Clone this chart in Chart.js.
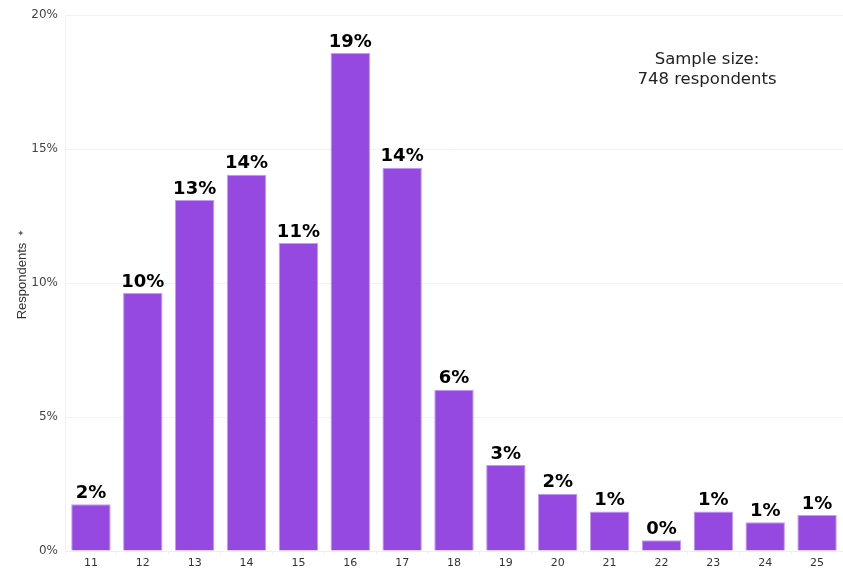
<!DOCTYPE html>
<html lang="en">
<head>
    <meta charset="UTF-8">
    <title>Respondents by Age</title>
    <script src="https://cdn.jsdelivr.net/npm/chart.js"></script>
    <style>
        body {
            margin: 0;
            background: #ffffff;
        }
        #wrap {
            width: 843px;
            height: 574px;
        }
    </style>
</head>
<body>
    <div id="wrap">
        <canvas id="ageChart" width="843" height="574"></canvas>
    </div>

    <script>
        // share of respondents per age, in percent
        const ages = ['11', '12', '13', '14', '15', '16', '17', '18', '19', '20', '21', '22', '23', '24', '25'];
        const shares = [1.74, 9.63, 13.1, 14.04, 11.49, 18.58, 14.3, 6.02, 3.21, 2.14, 1.47, 0.4, 1.47, 1.07, 1.34];
        const yTicks = [0, 5, 10, 15, 20];
        const sampleNote = ['Sample size:', '748 respondents'];

        const barColor = '#9549e1';

        // percentage labels above each bar
        const valueLabels = {
            id: 'valueLabels',
            afterDatasetsDraw(chart) {
                const ctx = chart.ctx;
                const meta = chart.getDatasetMeta(0);
                ctx.save();
                ctx.font = 'bold 18px "DejaVu Sans"';
                ctx.fillStyle = '#000';
                ctx.textAlign = 'center';
                ctx.textBaseline = 'bottom';
                meta.data.forEach((bar, i) => {
                    ctx.fillText(Math.round(shares[i]) + '%', bar.x, bar.y - 2);
                });
                ctx.restore();
            }
        };

        // sample size note + rotated axis title
        const extras = {
            id: 'extras',
            afterDraw(chart) {
                const ctx = chart.ctx;
                ctx.save();
                ctx.font = '16.5px "DejaVu Sans"';
                ctx.fillStyle = '#222';
                ctx.textAlign = 'center';
                ctx.textBaseline = 'middle';
                ctx.fillText(sampleNote[0], 707, 60);
                ctx.fillText(sampleNote[1], 707, 80);

                ctx.translate(22, 281);
                ctx.rotate(-Math.PI / 2);
                ctx.font = '13px "Liberation Sans"';
                ctx.fillStyle = '#333';
                ctx.textAlign = 'center';
                ctx.fillText('Respondents', 0, 0);
                ctx.font = '9px "DejaVu Sans"';
                ctx.fillStyle = '#666';
                ctx.fillText('\u2726', 48, 0);
                ctx.restore();
            }
        };

        new Chart(document.getElementById('ageChart'), {
            type: 'bar',
            data: {
                labels: ages,
                datasets: [{
                    data: shares,
                    backgroundColor: barColor,
                    borderColor: '#c29cf0',
                    borderWidth: 1,
                    barPercentage: 0.76,
                    categoryPercentage: 1
                }]
            },
            options: {
                responsive: false,
                animation: false,
                layout: { padding: { top: 15, right: 0, left: 0, bottom: 0 } },
                plugins: {
                    legend: { display: false },
                    tooltip: { enabled: false }
                },
                scales: {
                    x: {
                        grid: {
                            color: '#f2f2f2',
                            drawOnChartArea: false,
                            tickLength: 4,
                            offset: true
                        },
                        border: { color: '#eeeeee' },
                        ticks: {
                            color: '#333',
                            font: { family: 'DejaVu Sans', size: 11 },
                            padding: 2,
                            maxRotation: 0
                        },
                        afterFit(scale) { scale.height = 23; }
                    },
                    y: {
                        min: 0,
                        max: 20,
                        afterBuildTicks(scale) {
                            scale.ticks = yTicks.map(v => ({ value: v }));
                        },
                        grid: {
                            color: '#f2f2f2',
                            drawTicks: false
                        },
                        border: { color: '#f2f2f2' },
                        ticks: {
                            color: '#444',
                            font: { family: 'DejaVu Sans', size: 12 },
                            padding: 7,
                            callback: v => v + '%'
                        },
                        afterFit(scale) { scale.width = 65; }
                    }
                }
            },
            plugins: [valueLabels, extras]
        });
    </script>
</body>
</html>
